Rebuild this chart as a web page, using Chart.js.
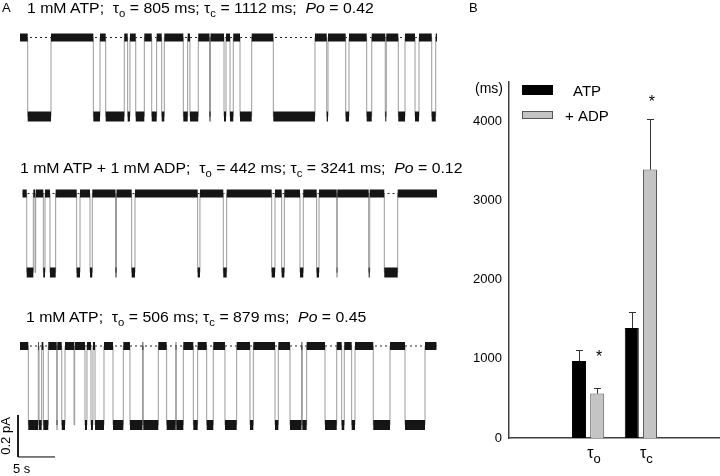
<!DOCTYPE html>
<html>
<head>
<meta charset="utf-8">
<script src="https://cdn.jsdelivr.net/npm/chart.js@4/dist/chart.umd.min.js"></script>
<style>
html,body{margin:0;padding:0;background:#fff;width:720px;height:476px;overflow:hidden;font-family:"Liberation Sans",Arial,sans-serif;}
canvas{position:absolute;top:0;}
#cA{left:0;}
#cB{left:440px;}
.t{position:absolute;white-space:pre;font-size:14px;line-height:14px;color:#000;transform:scaleX(1.13);transform-origin:0 0;}
.t sub{font-size:10px;vertical-align:-4px;line-height:0;}
.p{position:absolute;font-size:13px;line-height:13px;color:#000;}
</style>
</head>
<body>
<canvas id="cA" width="440" height="476"></canvas>
<canvas id="cB" width="280" height="476"></canvas>
<div class="p" style="left:2px;top:1px">A</div>
<div class="p" style="left:469px;top:1px">B</div>
<div class="t" style="left:27px;top:1px">1 mM ATP;  τ<sub>o</sub> = 805 ms; τ<sub>c</sub> = 1112 ms;  <i>Po</i> = 0.42</div>
<div class="t" style="left:20px;top:161px">1 mM ATP + 1 mM ADP;  τ<sub>o</sub> = 442 ms; τ<sub>c</sub> = 3241 ms;  <i>Po</i> = 0.12</div>
<div class="t" style="left:26px;top:310px">1 mM ATP;  τ<sub>o</sub> = 506 ms; τ<sub>c</sub> = 879 ms;  <i>Po</i> = 0.45</div>
<script>
// ---------------- DATA ----------------
// Panel A: single-channel records. Each list = start time, then times (s) at which
// the channel toggles state (starting closed), then end time.
const trace1Times = [0, 1.04, 4.19, 9.91, 10.81, 11.58, 14.09, 14.55, 14.86, 15.64, 16.80, 17.80, 18.47, 19.15, 19.50, 22.07, 22.66, 22.97, 24.09, 25.61, 25.74, 27.57, 27.84, 28.38, 28.82, 29.73, 31.31, 34.23, 39.86, 41.45, 41.62, 44.01, 44.46, 46.85, 47.53, 49.36, 49.50, 51.12, 52.03, 53.38, 53.92, 55.64, 56.18, 56.35];
const trace2Times = [0.34, 0.91, 1.80, 2.03, 2.12, 3.15, 3.38, 4.05, 4.82, 7.66, 8.11, 9.46, 9.77, 12.91, 13.04, 15.09, 15.54, 24.01, 24.32, 27.47, 27.93, 34.01, 34.46, 35.36, 35.72, 37.84, 38.28, 40.09, 40.41, 42.80, 42.88, 47.12, 47.26, 49.23, 51.04, 56.35];
const trace3Times = [0, 1.12, 2.47, 2.57, 2.93, 3.15, 3.82, 4.96, 5.04, 5.64, 6.08, 7.30, 7.39, 8.78, 9.05, 9.59, 9.86, 10.14, 11.35, 12.57, 13.96, 14.86, 16.55, 16.66, 18.69, 19.82, 21.04, 21.12, 22.07, 23.42, 24.01, 25.23, 26.12, 27.70, 29.28, 31.08, 31.53, 34.46, 34.91, 36.49, 38.04, 38.15, 38.74, 41.22, 42.80, 43.47, 43.82, 44.82, 45.27, 47.74, 50.00, 52.03, 54.73, 56.28];
const unitaryCurrentPA = 0.376;      // open-channel amplitude
const scaleBarSeconds = 5;
const scaleBarPA = 0.2;

// Panel B: mean open / closed times
const categories = ['o', 'c'];       // subscripts of tau
const seriesNames = ['ATP', '+ ADP'];
const atpMeans = [973, 1391];
const atpSEM   = [136, 202];
const adpMeans = [561, 3393];
const adpSEM   = [76, 640];
const adpSignificant = [true, true];
const starLevels = [1080, 4300];
const yTickValues = [0, 1000, 2000, 3000, 4000];
const yMax = 4500;

// ---------------- LAYOUT (not data) ----------------
const FONT = "'Liberation Sans', Arial, sans-serif";
const traceBaselines = [-0.1786, -0.9214, -1.6476]; // vertical placement of each record (pA)
const scaleBarOrigin = {x: -0.27, y: -2.176};

// ---------------- PANEL A ----------------
function buildTrace(times, base) {
  const open = base - unitaryCurrentPA;
  const step = [], closedBand = [], openBand = [];
  for (let i = 0; i < times.length - 1; i++) {
    const isOpen = i % 2 === 1;
    const lvl = isOpen ? open : base;
    step.push({x: times[i], y: lvl});
    const band = isOpen ? openBand : closedBand;
    band.push({x: times[i], y: lvl}, {x: times[i + 1], y: lvl}, {x: times[i + 1], y: null});
  }
  const lastOpen = (times.length - 2) % 2 === 1;
  step.push({x: times[times.length - 1], y: lastOpen ? open : base});
  return {
    step, closedBand, openBand,
    dotted: [{x: times[0], y: base}, {x: times[times.length - 1], y: base}]
  };
}

const dsA = [];
[trace1Times, trace2Times, trace3Times].forEach((times, k) => {
  const t = buildTrace(times, traceBaselines[k]);
  dsA.push({data: t.dotted, borderColor: '#222', borderWidth: 1, borderDash: [2, 3], order: 5});
  dsA.push({data: t.step, stepped: true, borderColor: '#9a9a9a', borderWidth: 1, order: 4});
  dsA.push({data: t.closedBand, borderColor: '#151515', borderWidth: 8, spanGaps: false, order: 1});
  dsA.push({data: t.openBand, borderColor: '#151515', borderWidth: 10, spanGaps: false, order: 1});
});
dsA.push({
  data: [
    {x: scaleBarOrigin.x, y: scaleBarOrigin.y + scaleBarPA},
    {x: scaleBarOrigin.x, y: scaleBarOrigin.y},
    {x: scaleBarOrigin.x + scaleBarSeconds, y: scaleBarOrigin.y}
  ],
  borderColor: '#000', borderWidth: 1, order: 0
});

const scaleBarLabels = {
  id: 'scaleBarLabels',
  afterDraw(chart) {
    const {ctx, scales: {x, y}} = chart;
    ctx.save();
    ctx.fillStyle = '#000';
    ctx.font = '13px ' + FONT;
    const yc = y.getPixelForValue(scaleBarOrigin.y + scaleBarPA / 2);
    ctx.translate(x.getPixelForValue(scaleBarOrigin.x) - 8, yc);
    ctx.rotate(-Math.PI / 2);
    ctx.textAlign = 'center';
    ctx.textBaseline = 'alphabetic';
    ctx.fillText(scaleBarPA + ' pA', 0, 0);
    ctx.restore();
    ctx.save();
    ctx.fillStyle = '#000';
    ctx.font = '13px ' + FONT;
    ctx.textAlign = 'left';
    ctx.fillText(scaleBarSeconds + ' s', x.getPixelForValue(scaleBarOrigin.x) - 5, y.getPixelForValue(scaleBarOrigin.y) + 16);
    ctx.restore();
  }
};

new Chart(document.getElementById('cA'), {
  type: 'line',
  data: {datasets: dsA},
  options: {
    responsive: false, animation: false, events: [],
    layout: {padding: 0},
    elements: {point: {radius: 0}, line: {tension: 0}},
    plugins: {legend: {display: false}, tooltip: {enabled: false}},
    scales: {
      x: {type: 'linear', min: -2.703, max: 56.757, display: false},
      y: {type: 'linear', min: -2.2667, max: 0, display: false}
    }
  },
  plugins: [scaleBarLabels]
});

// ---------------- PANEL B ----------------
const xLabels = ['', ...categories, ''];
const pad = arr => [null, ...arr, null];
const meansB = [atpMeans, adpMeans];
const semB = [atpSEM, adpSEM];

const panelBDecor = {
  id: 'panelBDecor',
  afterDatasetsDraw(chart) {
    const {ctx, scales: {x, y}} = chart;
    ctx.save();
    // error bars
    ctx.strokeStyle = '#333';
    ctx.lineWidth = 1;
    meansB.forEach((means, di) => {
      const meta = chart.getDatasetMeta(di);
      means.forEach((m, j) => {
        const bar = meta.data[j + 1];
        const top = Math.round(y.getPixelForValue(m + semB[di][j])) + 0.5;
        const cx = Math.round(bar.x) + 0.5;
        ctx.beginPath();
        ctx.moveTo(cx, bar.y);
        ctx.lineTo(cx, top);
        ctx.moveTo(cx - 3.5, top);
        ctx.lineTo(cx + 3.5, top);
        ctx.stroke();
      });
    });
    // significance stars
    ctx.fillStyle = '#000';
    ctx.font = '16px ' + FONT;
    ctx.textAlign = 'center';
    ctx.textBaseline = 'alphabetic';
    const metaAdp = chart.getDatasetMeta(1);
    adpSignificant.forEach((s, j) => {
      if (!s) return;
      const bar = metaAdp.data[j + 1];
      ctx.fillText('*', bar.x + 2, y.getPixelForValue(starLevels[j]) + 9);
    });
    // category labels: tau with subscript
    categories.forEach((c, j) => {
      const cx = x.getPixelForValue(j + 1);
      ctx.textAlign = 'left';
      ctx.font = '16px ' + FONT;
      ctx.fillText('τ', cx - 1, 458);
      const w = ctx.measureText('τ').width;
      ctx.font = '13px ' + FONT;
      ctx.fillText(c, cx - 1 + w, 463);
    });
    // unit label
    ctx.font = '14px ' + FONT;
    ctx.textAlign = 'right';
    ctx.textBaseline = 'middle';
    ctx.fillText('(ms)', 63, 89);
    // legend
    ctx.fillStyle = '#000';
    ctx.fillRect(82, 85, 31, 10);
    ctx.fillStyle = '#c4c4c4';
    ctx.fillRect(82, 111, 31, 8);
    ctx.strokeStyle = '#555';
    ctx.strokeRect(82.5, 111.5, 30, 7);
    ctx.fillStyle = '#000';
    ctx.font = '15px ' + FONT;
    ctx.textAlign = 'left';
    ctx.fillText(seriesNames[0], 133, 92);
    ctx.fillText(seriesNames[1], 125, 117);
    ctx.restore();
  }
};

new Chart(document.getElementById('cB'), {
  type: 'bar',
  data: {
    labels: xLabels,
    datasets: [
      {label: seriesNames[0], data: pad(atpMeans), backgroundColor: '#000', borderColor: '#000', borderWidth: 1,
       barPercentage: 0.77, categoryPercentage: 0.69},
      {label: seriesNames[1], data: pad(adpMeans), backgroundColor: '#c4c4c4', borderColor: '#555', borderWidth: 1,
       barPercentage: 0.77, categoryPercentage: 0.69}
    ]
  },
  options: {
    responsive: false, animation: false, events: [],
    layout: {padding: {top: 82, right: 0, left: 0, bottom: 0}},
    plugins: {legend: {display: false}, tooltip: {enabled: false}},
    scales: {
      x: {
        grid: {display: false, drawTicks: false},
        border: {display: true, color: '#404040', width: 1.5},
        ticks: {display: false},
        afterFit(s) { s.height = 38; }
      },
      y: {
        min: 0, max: yMax,
        grid: {display: false, drawTicks: false},
        border: {display: true, color: '#404040', width: 1.5},
        ticks: {color: '#000', padding: 7, font: {size: 13, family: FONT}, callback: v => String(v)},
        afterBuildTicks(s) { s.ticks = yTickValues.map(v => ({value: v})); },
        afterFit(s) { s.width = 69; }
      }
    }
  },
  plugins: [panelBDecor]
});
</script>
</body>
</html>
